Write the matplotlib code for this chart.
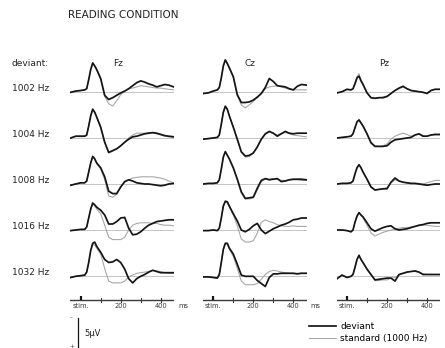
import matplotlib
matplotlib.use('Agg')
import matplotlib.pyplot as plt

plt.rcParams['font.family'] = ['Liberation Sans Narrow', 'DejaVu Sans']

# time points (ms after stimulus)
t_ms = [-50, -25, 0, 20, 30, 40, 50, 60, 70, 80, 100, 120, 140, 160, 180,
        200, 220, 240, 260, 280, 300, 320, 340, 360, 380, 400, 420, 440, 465]

electrodes = ['Fz', 'Cz', 'Pz']
deviants = ['1002 Hz', '1004 Hz', '1008 Hz', '1016 Hz', '1032 Hz']
time_ticks = [0, 100, 200, 300, 400]
time_labels = ['stim.', '', '200', '', '400']

# amplitudes in microvolts (negative plotted upwards)
fz_1002_dev = [0.1, -0.1, -0.2, -0.3, -0.5, -2.0, -3.7, -4.8, -4.3, -3.7, -2.2, 0.6, 1.3, 1.0, 0.6, 0.2, -0.1, -0.5, -1.0, -1.5, -1.8, -1.6, -1.3, -1.1, -0.8, -1.0, -1.2, -1.1, -0.8]
fz_1002_std = [0.1, -0.1, -0.2, -0.3, -0.5, -2.0, -3.6, -4.7, -4.3, -3.6, -2.0, 0.8, 2.0, 2.4, 1.5, 0.5, -0.1, -0.5, -0.6, -0.8, -1.0, -0.9, -0.8, -0.7, -0.6, -0.6, -0.5, -0.4, -0.3]
cz_1002_dev = [0.3, 0.2, -0.1, -0.3, -0.7, -2.3, -4.3, -5.3, -4.7, -4.0, -2.5, 0.5, 1.8, 1.8, 1.7, 1.4, 0.9, 0.3, -0.7, -2.2, -1.7, -1.0, -0.9, -0.8, -0.5, -0.3, -0.9, -1.2, -1.1]
cz_1002_std = [0.3, 0.2, -0.1, -0.3, -0.7, -2.3, -4.2, -5.2, -4.7, -3.9, -2.4, 0.7, 2.2, 2.7, 2.2, 1.6, 1.0, 0.3, -0.5, -0.8, -0.9, -1.0, -0.8, -0.6, -0.4, -0.3, -0.3, -0.3, -0.3]
pz_1002_dev = [0.2, 0.0, -0.4, -0.3, -0.5, -1.3, -2.3, -2.6, -1.8, -1.2, 0.2, 1.0, 1.1, 1.0, 1.0, 0.8, 0.3, -0.2, -0.6, -0.9, -0.5, -0.2, -0.1, 0.0, 0.1, 0.3, -0.2, -0.4, -0.4]
pz_1002_std = [0.2, 0.0, -0.4, -0.3, -0.5, -1.5, -2.5, -3.0, -2.0, -1.3, 0.1, 1.0, 1.1, 1.0, 0.9, 0.7, 0.3, -0.2, -0.5, -0.8, -0.5, -0.2, -0.1, 0.0, 0.1, 0.2, -0.2, -0.4, -0.4]

fz_1004_dev = [0.0, -0.3, -0.3, -0.3, -0.5, -2.0, -3.7, -4.8, -4.3, -3.5, -1.8, 0.7, 2.4, 2.1, 1.8, 1.3, 0.7, 0.2, -0.2, -0.3, -0.5, -0.7, -0.8, -0.9, -0.8, -0.6, -0.4, -0.3, -0.2]
fz_1004_std = [0.0, -0.3, -0.3, -0.3, -0.5, -2.0, -3.6, -4.7, -4.3, -3.4, -1.7, 0.8, 2.5, 2.2, 1.8, 1.3, 0.7, 0.0, -0.5, -0.8, -0.8, -0.8, -0.9, -0.8, -0.7, -0.5, -0.3, -0.2, -0.1]
cz_1004_dev = [0.2, 0.1, 0.0, -0.1, -0.5, -2.3, -4.3, -5.3, -4.8, -3.7, -1.8, 0.2, 2.3, 3.0, 2.9, 2.5, 1.5, 0.2, -0.7, -1.1, -0.8, -0.3, -0.7, -1.1, -0.8, -0.7, -0.8, -0.8, -0.8]
cz_1004_std = [0.2, 0.1, 0.0, -0.1, -0.5, -2.3, -4.2, -5.2, -4.8, -3.7, -1.8, 0.3, 2.4, 3.2, 3.1, 2.5, 1.4, 0.2, -0.6, -1.0, -0.8, -0.5, -0.8, -0.9, -0.7, -0.5, -0.4, -0.3, -0.2]
pz_1004_dev = [0.0, -0.1, -0.2, -0.3, -0.7, -1.7, -2.7, -3.0, -2.5, -2.0, -0.7, 0.8, 1.4, 1.4, 1.4, 1.3, 0.7, 0.3, 0.2, 0.1, 0.0, -0.1, -0.5, -0.7, -0.3, -0.3, -0.5, -0.6, -0.6]
pz_1004_std = [0.0, -0.1, -0.2, -0.3, -0.7, -1.7, -2.7, -3.1, -2.6, -2.0, -0.7, 0.7, 1.3, 1.4, 1.3, 1.0, 0.2, -0.3, -0.6, -0.8, -0.6, -0.3, -0.5, -0.6, -0.4, -0.3, -0.5, -0.5, -0.5]

fz_1008_dev = [0.2, 0.0, -0.2, -0.2, -0.5, -2.0, -3.5, -4.6, -4.2, -3.5, -2.7, -1.2, 1.2, 1.6, 1.6, 0.5, -0.4, -0.7, -0.5, -0.2, -0.1, 0.0, 0.0, 0.1, 0.2, 0.3, 0.2, 0.0, -0.1]
fz_1008_std = [0.2, 0.0, -0.2, -0.2, -0.5, -2.0, -3.5, -4.5, -4.1, -3.4, -2.5, -0.7, 2.0, 2.2, 1.7, 0.5, -0.3, -0.7, -1.0, -1.1, -1.2, -1.2, -1.2, -1.2, -1.1, -1.0, -0.8, -0.5, -0.2]
cz_1008_dev = [0.0, -0.1, -0.1, -0.2, -0.7, -2.5, -4.5, -5.4, -4.8, -4.2, -2.7, -0.8, 1.3, 2.4, 2.3, 2.2, 0.7, -0.6, -0.9, -0.7, -0.8, -0.9, -0.4, -0.5, -0.7, -0.8, -0.8, -0.8, -0.7]
cz_1008_std = [0.0, -0.1, -0.1, -0.2, -0.7, -2.4, -4.4, -5.3, -4.8, -4.1, -2.6, -0.7, 1.5, 2.5, 2.5, 2.3, 1.0, -0.4, -0.8, -0.8, -0.9, -0.8, -0.6, -0.6, -0.7, -0.7, -0.7, -0.6, -0.6]
pz_1008_dev = [0.0, -0.1, -0.1, -0.2, -0.5, -1.7, -2.7, -3.2, -2.7, -2.0, -0.8, 0.5, 1.0, 0.9, 0.8, 0.8, -0.3, -1.0, -0.5, -0.3, -0.2, -0.1, -0.1, 0.0, 0.1, 0.2, 0.1, 0.0, 0.0]
pz_1008_std = [0.0, -0.1, -0.1, -0.2, -0.5, -1.7, -2.8, -3.3, -2.8, -2.0, -0.8, 0.4, 1.0, 0.9, 0.8, 0.6, -0.2, -0.7, -0.5, -0.3, -0.2, -0.1, -0.1, -0.1, 0.0, -0.2, -0.4, -0.6, -0.6]

fz_1016_dev = [0.1, 0.0, -0.1, -0.1, -0.5, -2.0, -3.5, -4.5, -4.2, -3.8, -3.3, -2.5, -1.0, -1.0, -1.4, -2.0, -2.1, -0.3, 0.8, 0.7, 0.3, -0.3, -0.8, -1.1, -1.4, -1.5, -1.6, -1.7, -1.7]
fz_1016_std = [0.1, 0.0, -0.1, -0.1, -0.5, -2.0, -3.4, -4.4, -4.0, -3.5, -2.7, -0.8, 1.2, 1.6, 1.6, 1.6, 1.2, 0.0, -0.8, -1.1, -1.2, -1.2, -1.2, -1.1, -1.1, -0.9, -0.8, -0.8, -0.7]
cz_1016_dev = [0.1, 0.1, 0.0, 0.1, -0.3, -2.0, -4.0, -4.8, -4.7, -4.0, -2.7, -1.5, 0.0, 0.3, -0.1, -0.7, -1.1, 0.0, 0.6, 0.2, -0.2, -0.5, -0.8, -1.0, -1.3, -1.7, -1.8, -2.0, -2.0]
cz_1016_std = [0.1, 0.1, 0.0, 0.1, -0.3, -2.0, -3.9, -4.7, -4.5, -3.8, -2.5, -0.7, 1.5, 2.0, 2.0, 1.8, 0.5, -1.3, -1.7, -1.4, -1.2, -0.9, -0.7, -0.6, -0.6, -0.7, -0.6, -0.6, -0.6]
pz_1016_dev = [0.0, 0.0, 0.1, 0.3, 0.0, -1.3, -2.3, -2.9, -2.5, -2.2, -1.2, -0.2, 0.2, -0.1, -0.4, -0.6, -0.7, -0.2, 0.0, -0.1, -0.2, -0.4, -0.6, -0.8, -0.9, -1.1, -1.2, -1.2, -1.2]
pz_1016_std = [0.0, 0.0, 0.1, 0.3, 0.0, -1.3, -2.3, -2.9, -2.4, -2.0, -0.8, 0.5, 1.0, 0.7, 0.4, 0.2, 0.0, -0.2, -0.3, -0.4, -0.4, -0.5, -0.6, -0.7, -0.8, -0.8, -0.7, -0.6, -0.6]

fz_1032_dev = [0.2, 0.0, -0.1, -0.2, -0.7, -2.3, -4.3, -5.5, -5.7, -5.0, -4.0, -2.8, -2.3, -2.4, -2.8, -2.3, -1.2, 0.4, 1.1, 0.4, 0.0, -0.3, -0.7, -1.0, -0.8, -0.6, -0.6, -0.6, -0.6]
fz_1032_std = [0.2, 0.0, -0.1, -0.2, -0.7, -2.3, -4.2, -5.3, -5.2, -4.7, -3.7, -1.3, 0.8, 1.1, 1.1, 1.1, 0.8, 0.1, -0.2, -0.5, -0.6, -0.7, -0.8, -1.0, -0.9, -0.8, -0.6, -0.5, -0.5]
cz_1032_dev = [0.1, 0.1, 0.2, 0.3, -0.3, -2.3, -4.5, -5.5, -5.5, -4.7, -3.7, -2.0, -0.2, 0.0, 0.0, 0.0, 0.7, 1.2, 1.7, 0.2, -0.4, -0.4, -0.5, -0.5, -0.5, -0.5, -0.4, -0.5, -0.5]
cz_1032_std = [0.1, 0.1, 0.2, 0.3, -0.3, -2.3, -4.4, -5.4, -5.4, -4.6, -3.3, -1.3, 0.8, 1.4, 1.4, 1.4, 1.2, 0.5, -0.3, -0.8, -1.0, -0.9, -0.7, -0.6, -0.5, -0.5, -0.5, -0.5, -0.5]
pz_1032_dev = [0.4, -0.2, 0.2, 0.0, -0.3, -1.5, -2.8, -3.5, -2.8, -2.3, -1.2, -0.3, 0.6, 0.5, 0.4, 0.3, 0.3, 0.8, -0.3, -0.5, -0.7, -0.8, -0.9, -0.7, -0.3, -0.3, -0.3, -0.3, -0.3]
pz_1032_std = [0.4, -0.2, 0.2, 0.0, -0.3, -1.5, -2.8, -3.4, -2.8, -2.2, -1.1, -0.2, 0.7, 0.7, 0.6, 0.6, 0.3, 0.2, -0.2, -0.5, -0.7, -0.8, -0.8, -0.7, -0.4, -0.3, -0.3, -0.3, -0.3]

waves = [
    [(fz_1002_dev, fz_1002_std), (cz_1002_dev, cz_1002_std), (pz_1002_dev, pz_1002_std)],
    [(fz_1004_dev, fz_1004_std), (cz_1004_dev, cz_1004_std), (pz_1004_dev, pz_1004_std)],
    [(fz_1008_dev, fz_1008_std), (cz_1008_dev, cz_1008_std), (pz_1008_dev, pz_1008_std)],
    [(fz_1016_dev, fz_1016_std), (cz_1016_dev, cz_1016_std), (pz_1016_dev, pz_1016_std)],
    [(fz_1032_dev, fz_1032_std), (cz_1032_dev, cz_1032_std), (pz_1032_dev, pz_1032_std)],
]

W, H = 445, 348
fig = plt.figure(figsize=(W / 100, H / 100), dpi=100)

PX_MS = 0.2      # pixels per ms
PX_UV = 6.0      # pixels per microvolt
T0, T1 = -52, 466
UP, DOWN = 40, 22
stim_x = [80.7, 213.3, 347.0]
base_y = [91.7, 138.0, 184.0, 230.0, 276.3]
BLACK = '#151515'
GRAY = '#a8a8a8'
AXC = '#3a3a3a'


def px_axes(left, top, width, height):
    ax = fig.add_axes([left / W, 1 - (top + height) / H, width / W, height / H])
    ax.patch.set_alpha(0)
    return ax


def ftext(x, y, s, **kw):
    fig.text(x / W, 1 - y / H, s, **kw)


for r in range(5):
    for c in range(3):
        ax = px_axes(stim_x[c] + T0 * PX_MS, base_y[r] - UP, (T1 - T0) * PX_MS, UP + DOWN)
        ax.set_xlim(T0, T1)
        ax.set_ylim(DOWN / PX_UV, -UP / PX_UV)
        ax.axis('off')
        ax.axhline(0, color='#c4c4c4', lw=0.7)
        dev, std = waves[r][c]
        l_std, = ax.plot(t_ms, std, color=GRAY, lw=0.8, label='standard (1000 Hz)')
        l_dev, = ax.plot(t_ms, dev, color=BLACK, lw=1.25, label='deviant')

# titles and labels
ftext(68, 15, 'READING CONDITION', fontsize=7.5, va='center', ha='left', color='#222222')
ftext(11.5, 63, 'deviant:', fontsize=6.5, va='center', ha='left', color='#222222')
for c in range(3):
    ftext(stim_x[c] + 37, 63, electrodes[c], fontsize=6.5, va='center', ha='center', color='#222222')
for r in range(5):
    ftext(49.5, base_y[r] - 3.5, deviants[r], fontsize=6.5, va='center', ha='right', color='#222222')

# scale bar: 5 microvolts
SCALE_UV = 5
sax = px_axes(70, 318, 30, SCALE_UV * PX_UV)
sax.set_xlim(0, 30)
sax.set_ylim(0, -SCALE_UV)
sax.axis('off')
sax.plot([7.5, 7.5], [0, -SCALE_UV], color=BLACK, lw=0.9, clip_on=False)
sax.text(1.5, -SCALE_UV, '–', fontsize=4, ha='center', va='center', color=AXC)
sax.text(1.8, -0.3, '+', fontsize=4, ha='center', va='center', color=AXC)
sax.text(14, -SCALE_UV / 2, '5μV', fontsize=6, ha='left', va='center', color='#222222')

fig.legend(handles=[l_dev, l_std], loc='upper left', bbox_to_anchor=(309 / W, 1 - 322 / H),
           frameon=False, fontsize=6.5, handlelength=3.0, handletextpad=0.45,
           borderpad=0, borderaxespad=0, labelspacing=0.35)

# time axes (1 px = 1 unit vertically), drawn last
for c in range(3):
    ax = px_axes(stim_x[c] + T0 * PX_MS, 290, (T1 - T0) * PX_MS, 20)
    ax.set_xlim(T0, T1)
    ax.set_ylim(-10, 10)
    ax.axis('off')
    ax.axhline(0, xmax=(462 - T0) / (T1 - T0), color=AXC, lw=1.0, zorder=10)
    for tk, lab in zip(time_ticks, time_labels):
        if tk == 0:
            ax.plot([tk, tk], [0, 4.5], color=BLACK, lw=1.6, solid_capstyle='butt', zorder=10)
        else:
            ax.plot([tk, tk], [-2, 2.5], color=AXC, lw=0.8, zorder=10)
        if lab:
            ax.text(tk, -5.5, lab, fontsize=4.8, color=AXC, ha='center', va='center')
    ax.text(486, -5.5, 'ms', fontsize=4.8, color=AXC, ha='left', va='center')

fig.savefig('out.png', dpi=100)
